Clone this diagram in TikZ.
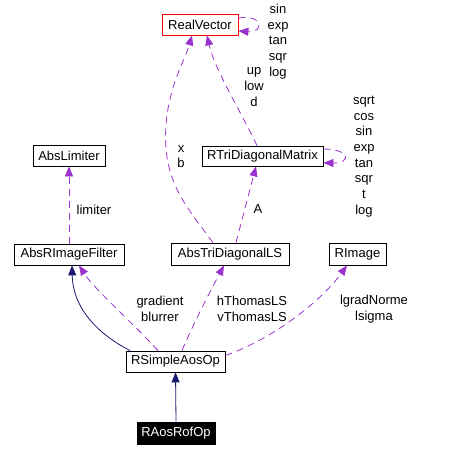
\documentclass[tikz,border=0pt]{standalone}
\usepackage{fontspec}
\setmainfont{Liberation Sans}
\usetikzlibrary{arrows.meta}
\definecolor{dpurple}{HTML}{9A32CD}
\definecolor{dnavy}{HTML}{191970}
\begin{document}
\begin{tikzpicture}[x=1pt,y=-1pt,
  font=\fontsize{13}{15.7}\selectfont,
  cls/.style={draw=black,line width=0.8pt,fill=white,inner sep=0pt,minimum height=21pt},
  use/.style={dpurple,line width=0.8pt,dash pattern=on 7pt off 5pt,-{Triangle[length=10pt,width=8pt]}},
  inh/.style={dnavy,line width=0.8pt,-{Triangle[length=10pt,width=8pt]}},
  lbl/.style={align=center,inner sep=0pt}]
\useasboundingbox (0,0) rectangle (449,457);
\node[cls,draw=red,minimum width=76pt] (RV) at (200,24.5) {RealVector};
\node[cls,minimum width=121pt,minimum height=20pt] (RTDM) at (262.5,156) {RTriDiagonalMatrix};
\node[cls,minimum width=72pt] (AL) at (69,155.5) {AbsLimiter};
\node[cls,minimum width=110pt] (ARF) at (69,254.5) {AbsRImageFilter};
\node[cls,minimum width=118pt,minimum height=22pt] (ATD) at (230,254) {AbsTriDiagonalLS};
\node[cls,minimum width=57pt,minimum height=22pt] (RI) at (357.5,254) {RImage};
\node[cls,minimum width=99pt] (SAO) at (175.5,361.5) {RSimpleAosOp};
\node[cls,fill=black,text=white,minimum width=78pt,minimum height=22pt] (RA) at (176,433) {RAosRofOp};

% inheritance
\draw[inh] (RA.north) -- (SAO.south);
\draw[inh] ([xshift=-45.5pt]SAO.north) .. controls (100,335) and (73,310) .. ([xshift=3pt]ARF.south);

% usage
\draw[use] ([xshift=-17.5pt]SAO.north) .. controls (130,320) and (95,290) .. ([xshift=10pt]ARF.south);
\draw[use] ([xshift=6.5pt]SAO.north) .. controls (195,320) and (212,288) .. ([xshift=-6pt]ATD.south);
\draw[use] ([yshift=6pt]SAO.east) .. controls (275,338) and (322,300) .. ([xshift=-10.5pt]RI.south);
\draw[use] (ARF.north) -- (AL.south);
\draw[use] ([xshift=6pt]ATD.north) -- ([xshift=-6.5pt]RTDM.south);
\draw[use] ([xshift=-17pt]ATD.north) .. controls (185,205) and (162,180) .. (166,125) .. controls (169,85) and (185,60) .. ([xshift=-8pt]RV.south);
\draw[use] ([xshift=-5.5pt]RTDM.north) .. controls (240,110) and (215,70) .. ([xshift=7pt]RV.south);
\draw[use] ([yshift=6.5pt]RV.east) .. controls (264,14) and (264,33) .. ([yshift=-6.5pt]RV.east);
\draw[use] ([yshift=7pt]RTDM.east) .. controls (350,149) and (352,163) .. ([yshift=-7pt]RTDM.east);

% labels
\node[lbl] (l1) at (278,41.5) {sin\\exp\\tan\\sqr\\log};
\node[lbl] (l2) at (364,156.5) {sqrt\\cos\\sin\\exp\\tan\\sqr\\t\\log};
\node[lbl] (l3) at (254,87) {up\\low\\d};
\node[lbl] (l4) at (181,156.5) {x\\b};
\node[lbl] (l5) at (258,209.5) {A};
\node[lbl] (l6) at (94,210) {limiter};
\node[lbl] (l7) at (160,309) {gradient\\blurrer};
\node[lbl] (l8) at (252,309) {hThomasLS\\vThomasLS};
\node[lbl] (l9) at (374,309) {lgradNorme\\lsigma};
\end{tikzpicture}
\end{document}
